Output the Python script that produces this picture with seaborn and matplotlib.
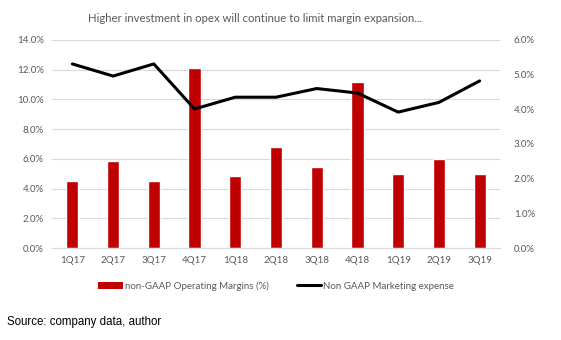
import matplotlib
matplotlib.use("Agg")
import matplotlib.pyplot as plt
import seaborn as sns
import pandas as pd
from matplotlib.ticker import FuncFormatter
from matplotlib.patches import Patch
from matplotlib.lines import Line2D

quarters = ["1Q17", "2Q17", "3Q17", "4Q17", "1Q18", "2Q18", "3Q18", "4Q18", "1Q19", "2Q19", "3Q19"]
op_margin = [4.5, 5.85, 4.5, 12.1, 4.85, 6.8, 5.45, 11.15, 5.0, 6.0, 5.0]
marketing = [5.31, 4.96, 5.31, 4.01, 4.35, 4.35, 4.6, 4.47, 3.92, 4.2, 4.82]

title = "Higher investment in opex will continue to limit margin expansion..."
bar_label = "non-GAAP Operating Margins (%)"
line_label = "Non GAAP Marketing expense"
source = "Source: company data, author"

df = pd.DataFrame({"q": quarters, "m": op_margin, "mk": marketing})

sns.set_style("white")
plt.rcParams['font.family'] = ['Lato', 'DejaVu Sans']

fig = plt.figure(figsize=(5.61, 3.40), dpi=100)
ax = fig.add_axes([52/561, 1-248/340, 448/561, 208/340])

sns.barplot(data=df, x="q", y="m", color="#C00000", width=0.3, saturation=1, ax=ax, zorder=2)
ax.set_ylim(0, 14)
ax.set_yticks([0, 2, 4, 6, 8, 10, 12, 14])
ax.yaxis.set_major_formatter(FuncFormatter(lambda v, p: f"{v:.1f}%"))
ax.grid(axis="y", color="#D9D9D9", linewidth=0.8, zorder=0)
ax.set_axisbelow(True)
ax.set_xlabel("")
ax.set_ylabel("")
for s in ["top", "left", "right"]:
    ax.spines[s].set_visible(False)
ax.spines["bottom"].set_color("#D9D9D9")
ax.tick_params(axis="both", length=0, labelsize=7, colors="#595959", pad=6)
ax.set_xlim(-0.5, len(quarters) - 0.5)

ax2 = ax.twinx()
sns.lineplot(data=df, x="q", y="mk", color="black", linewidth=2.2, ax=ax2, sort=False)
ax2.set_ylim(0, 6)
ax2.set_yticks([0, 1, 2, 3, 4, 5, 6])
ax2.yaxis.set_major_formatter(FuncFormatter(lambda v, p: f"{v:.1f}%"))
ax2.set_ylabel("")
ax2.set_xlabel("")
for s in ["top", "left", "right", "bottom"]:
    ax2.spines[s].set_visible(False)
ax2.tick_params(axis="both", length=0, labelsize=7, colors="#595959", pad=10)
ax2.set_xlim(-0.5, len(quarters) - 0.5)

fig.text(255/561, 1-18/340, title, ha="center", va="center", fontsize=8.2, color="#595959")

handles = [Patch(facecolor="#C00000", edgecolor="none"),
           Line2D([0], [0], color="black", linewidth=2.2)]
fig.legend(handles, [bar_label, line_label], loc="center", bbox_to_anchor=(276/561, 1-286/340),
           ncol=2, frameon=False, fontsize=7, labelcolor="#595959",
           handlelength=2.5, handleheight=0.7, handletextpad=0.2, columnspacing=2.9)

fig.text(7/561, 1-322/340, source, ha="left", va="center", fontsize=8.3, color="black",
         family=["Liberation Sans", "DejaVu Sans"])

fig.savefig("out.png", dpi=100)
